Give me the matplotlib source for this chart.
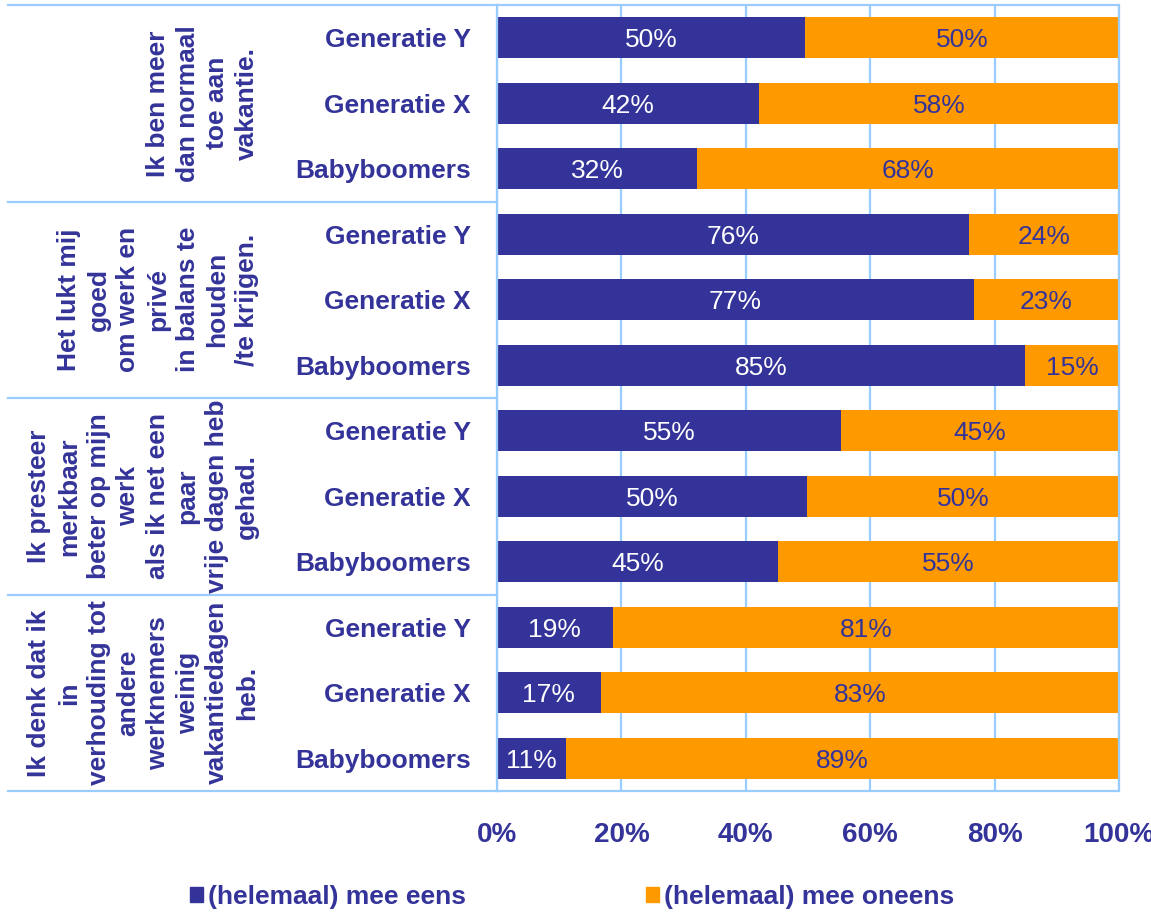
import matplotlib
matplotlib.use('Agg')
import matplotlib.pyplot as plt
from matplotlib.patches import Patch
from matplotlib.transforms import blended_transform_factory

plt.rcParams['font.family'] = ['Liberation Sans', 'DejaVu Sans']

# rows top -> bottom
generations = ['Generatie Y', 'Generatie X', 'Babyboomers'] * 4
eens = [49.5, 42.1, 32.2, 75.9, 76.7, 84.9, 55.3, 49.8, 45.2, 18.6, 16.7, 11.1]
eens_labels = ['50%', '42%', '32%', '76%', '77%', '85%', '55%', '50%', '45%', '19%', '17%', '11%']
oneens_labels = ['50%', '58%', '68%', '24%', '23%', '15%', '45%', '50%', '55%', '81%', '83%', '89%']
statements = [
    'Ik ben meer\ndan normaal\ntoe aan\nvakantie.',
    'Het lukt mij\ngoed\nom werk en\nprivé\nin balans te\nhouden\n/te krijgen.',
    'Ik presteer\nmerkbaar\nbeter op mijn\nwerk\nals ik net een\npaar\nvrije dagen heb\ngehad.',
    'Ik denk dat ik\nin\nverhouding tot\nandere\nwerknemers\nweinig\nvakantiedagen\nheb.',
]
legend_labels = ['(helemaal) mee eens', '(helemaal) mee oneens']
xticks = [0, 20, 40, 60, 80, 100]

BLUE = '#333399'
ORANGE = '#FF9900'
GRID = '#99CCFF'
FS = 19

fig = plt.figure(figsize=(11.51, 9.13), dpi=100)
ax = fig.add_axes([497 / 1151, 1 - 791 / 913, 622 / 1151, 786 / 913])

ypos = list(range(len(generations)))
oneens = [100 - v for v in eens]
ax.barh(ypos, eens, height=0.62, color=BLUE, zorder=2)
ax.barh(ypos, oneens, left=eens, height=0.62, color=ORANGE, zorder=2)

for y, e, le, lo in zip(ypos, eens, eens_labels, oneens_labels):
    ax.text(e / 2, y, le, ha='center', va='center_baseline', color='white', fontsize=FS, zorder=3)
    ax.text(e + (100 - e) / 2, y, lo, ha='center', va='center_baseline', color=BLUE,
            fontsize=FS, zorder=3)

ax.set_xlim(0, 100)
ax.set_ylim(len(generations) - 0.5, -0.5)
ax.set_xticks(xticks)
ax.set_xticklabels([f'{t}%' for t in xticks], fontsize=20, fontweight='bold', color=BLUE)
ax.set_yticks(ypos)
ax.set_yticklabels(generations, fontsize=FS, fontweight='bold', color=BLUE)
ax.tick_params(axis='y', length=0, pad=19)
ax.tick_params(axis='x', length=0, pad=22)
ax.set_axisbelow(True)
ax.xaxis.grid(True, color=GRID, linewidth=1.6)
for s in ax.spines.values():
    s.set_color(GRID)
    s.set_linewidth(1.6)

# group separators and statement labels on the left
trans = blended_transform_factory(ax.transAxes, ax.transData)
x_left = (8 - 497) / 622
for i in range(len(statements) + 1):
    yb = i * 3 - 0.5
    ax.plot([x_left, 0], [yb, yb], color=GRID, linewidth=1.6, transform=trans, clip_on=False)
for i, s in enumerate(statements):
    ax.text((259 - 497) / 622, i * 3 + 1, s, transform=trans, rotation=90,
            ha='right', va='center', multialignment='center', linespacing=1.3,
            fontsize=FS, fontweight='bold', color=BLUE)

handles = [Patch(color=BLUE), Patch(color=ORANGE)]
fig.legend(handles, legend_labels, loc='center', bbox_to_anchor=(0.497, 1 - 897 / 913),
           ncol=2, frameon=False, handlelength=0.5, handleheight=0.5, handletextpad=0.2,
           columnspacing=6.8, prop={'size': FS, 'weight': 'bold'}, labelcolor=BLUE)

fig.savefig('out.png', dpi=100)
